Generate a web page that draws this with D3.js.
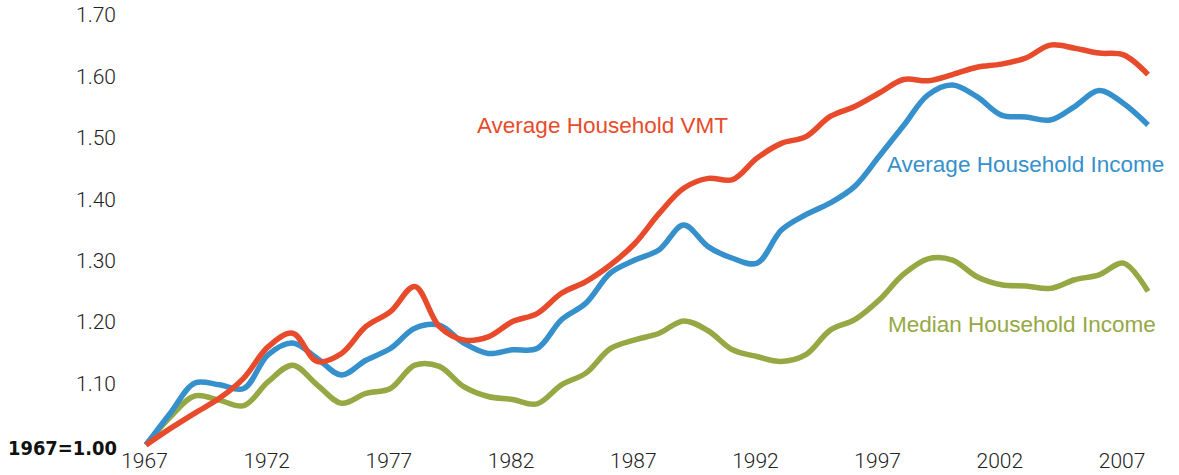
<!DOCTYPE html>
<html>
<head>
<meta charset="utf-8">
<script src="https://d3js.org/d3.v7.min.js"></script>
<style>
    html, body { margin: 0; padding: 0; background: #fff; }
    svg { display: block; }
    .tick text { font-family: Roboto, sans-serif; font-weight: 300; font-size: 21px; fill: #222; }
    .series-label { font-family: "Liberation Sans", Arial, sans-serif; font-size: 22.5px; }
</style>
</head>
<body>
<svg id="canvas"></svg>
<script>
"use strict"

// Chart data, indexed to 1967 = 1.00
const years = d3.range(1967, 2009);
const yTicks = [1.1, 1.2, 1.3, 1.4, 1.5, 1.6, 1.7];
const xTicks = [1967, 1972, 1977, 1982, 1987, 1992, 1997, 2002, 2007];

const vmtValues = [
    1.000, 1.027, 1.052, 1.076, 1.109, 1.160, 1.182, 1.136, 1.149, 1.193,
    1.217, 1.258, 1.193, 1.171, 1.176, 1.201, 1.214, 1.247, 1.266, 1.293,
    1.328, 1.377, 1.418, 1.434, 1.432, 1.467, 1.491, 1.502, 1.535, 1.551,
    1.573, 1.595, 1.593, 1.603, 1.615, 1.620, 1.630, 1.651, 1.646, 1.638,
    1.635, 1.603
];
const avgIncomeValues = [
    1.000, 1.052, 1.101, 1.098, 1.092, 1.147, 1.166, 1.141, 1.114, 1.138,
    1.157, 1.190, 1.195, 1.166, 1.149, 1.155, 1.157, 1.204, 1.231, 1.280,
    1.301, 1.318, 1.358, 1.323, 1.304, 1.296, 1.350, 1.375, 1.394, 1.421,
    1.470, 1.520, 1.570, 1.586, 1.567, 1.537, 1.534, 1.529, 1.551, 1.577,
    1.556, 1.521
];
const medianIncomeValues = [
    1.000, 1.046, 1.080, 1.073, 1.064, 1.103, 1.130, 1.098, 1.068, 1.084,
    1.092, 1.130, 1.128, 1.095, 1.079, 1.074, 1.067, 1.098, 1.117, 1.157,
    1.171, 1.182, 1.202, 1.186, 1.155, 1.144, 1.136, 1.147, 1.187, 1.204,
    1.236, 1.278, 1.303, 1.301, 1.274, 1.261, 1.259, 1.255, 1.269, 1.277,
    1.296, 1.250
];
const seriesNames = ["Average Household VMT", "Average Household Income", "Median Household Income"];
const seriesColors = ["#e84b2b", "#3590cc", "#95a843"];

const canvasWidth = 1179;
const canvasHeight = 475;

const chart = {
    marginLeft: 146,
    marginRight: 31,
    marginTop: 15,
    marginBottom: 30
};

const canvas = d3.select("#canvas")
    .attr("width", canvasWidth)
    .attr("height", canvasHeight);

// Scales
const x = d3.scaleLinear()
    .domain([1967, 2008])
    .range([chart.marginLeft, canvasWidth - chart.marginRight]);

const y = d3.scaleLinear()
    .domain([1.0, 1.7])
    .range([canvasHeight - chart.marginBottom, chart.marginTop]);

// Y axis (labels only)
const yAxis = canvas.append("g")
    .attr("transform", `translate(${chart.marginLeft - 30},0)`)
    .call(d3.axisLeft(y).tickValues(yTicks).tickFormat(d3.format(".2f")).tickSize(0).tickPadding(0));
yAxis.select(".domain").remove();

// Base label
canvas.append("text")
    .text("1967=1.00")
    .attr("x", 8)
    .attr("y", y(1.0) + 3)
    .attr("dy", "0.35em")
    .attr("textLength", 109)
    .attr("lengthAdjust", "spacingAndGlyphs")
    .attr("font-family", "'DejaVu Sans', sans-serif")
    .attr("font-weight", "bold")
    .attr("font-size", "19px")
    .attr("fill", "#111");

// X axis (labels only)
const xAxis = canvas.append("g")
    .attr("transform", `translate(-2,${canvasHeight - 22})`)
    .call(d3.axisBottom(x).tickValues(xTicks).tickFormat(d3.format("d")).tickSize(0).tickPadding(0));
xAxis.select(".domain").remove();

// Lines
const line = d3.line()
    .x((d, i) => x(years[i]))
    .y(d => y(d))
    .curve(d3.curveCatmullRom.alpha(0.5));

const allSeries = [vmtValues, avgIncomeValues, medianIncomeValues];

// draw median first so VMT sits on top
[2, 1, 0].forEach(i => {
    canvas.append("path")
        .datum(allSeries[i])
        .attr("fill", "none")
        .attr("stroke", seriesColors[i])
        .attr("stroke-width", 5.5)
        .attr("stroke-linejoin", "round")
        .attr("d", line);
});

// Series labels
const labelPos = [[477, 133], [887, 172], [888, 332]];
seriesNames.forEach((name, i) => {
    canvas.append("text")
        .attr("class", "series-label")
        .attr("x", labelPos[i][0])
        .attr("y", labelPos[i][1])
        .attr("fill", seriesColors[i])
        .text(name);
});
</script>
</body>
</html>
